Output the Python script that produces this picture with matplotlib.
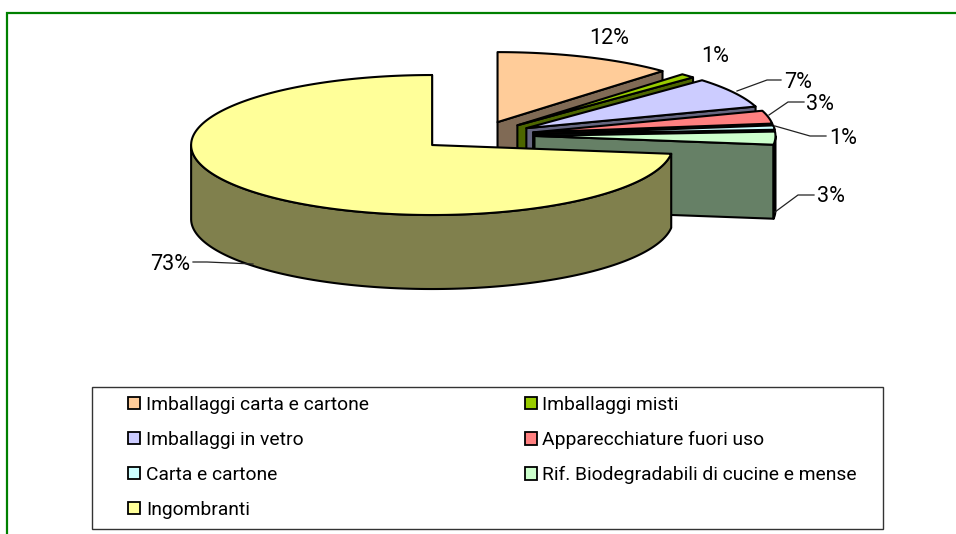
import numpy as np
import matplotlib
matplotlib.use("Agg")
import matplotlib.pyplot as plt
from matplotlib.patches import Patch, Polygon, Rectangle

# Dati
categorie = ["Imballaggi carta e cartone", "Imballaggi misti", "Imballaggi in vetro",
             "Apparecchiature fuori uso", "Carta e cartone",
             "Rif. Biodegradabili di cucine e mense", "Ingombranti"]
valori = [12, 1, 7, 3, 1, 3, 73]
colori = ["#FFCC99", "#99CC00", "#CCCCFF", "#FF8080", "#CCFFFF", "#CCFFCC", "#FFFF99"]
colori_lato = ["#806A55", "#4D6600", "#666680", "#804040", "#668080", "#668066", "#80804D"]

# Geometria della torta (in pixel)
cx, cy = 476, 135.5
rx, ry = 241, 70
depth = 74
expl_x, expl_y = 58.5, 14.4

# Etichette e linee guida
etichette_xy = [(609, 39), (715, 57), (798, 82), (820, 104), (843, 138), (831, 197), (170, 265)]
guide = {2: [(737, 91), (767, 80), (781, 80)],
         3: [(769, 115), (788, 102), (804, 102)],
         4: [(775, 126), (810, 136), (826, 136)],
         5: [(775, 212), (798, 195), (814, 195)],
         6: [(253, 264), (207, 262), (193, 262)]}

plt.rcParams['font.family'] = ['Roboto', 'DejaVu Sans']

fig = plt.figure(figsize=(9.56, 5.34), dpi=100)
ax = fig.add_axes([0, 0, 1, 1])
ax.set_xlim(0, 956)
ax.set_ylim(534, 0)
ax.axis("off")

# Cornice verde
ax.plot([7.5, 7.5, 956], [534, 13, 13], color="#008000", lw=1.6, solid_joinstyle="miter")


def arco(x0, y0, a1, a2):
    # angoli in gradi, orari a partire dalle ore 12
    t = np.radians(np.linspace(a1, a2, max(int(abs(a2 - a1) * 2), 2)))
    return np.column_stack([x0 + rx * np.sin(t), y0 - ry * np.cos(t)])


stile = dict(edgecolor="black", lw=1.5, joinstyle="round")
fine = np.cumsum(valori) / np.sum(valori) * 360
inizio = np.concatenate([[0], fine[:-1]])

for a1, a2, col, lato in zip(inizio, fine, colori, colori_lato):
    medio = np.radians((a1 + a2) / 2)
    x0 = cx + expl_x * np.sin(medio)
    y0 = cy - expl_y * np.cos(medio)
    bordo = arco(x0, y0, a1, a2)
    giu = np.array([0, depth])

    # parete radiale
    centro = np.array([x0, y0])
    ax.add_patch(Polygon([centro, bordo[-1], bordo[-1] + giu, centro + giu], facecolor=lato, **stile))

    # parete esterna, solo la parte davanti
    b1, b2 = max(a1, 90), min(a2, 270)
    if b2 > b1:
        fronte = arco(x0, y0, b1, b2)
        ax.add_patch(Polygon(np.vstack([fronte, (fronte + giu)[::-1]]), facecolor=lato, **stile))

    # faccia superiore
    ax.add_patch(Polygon(np.vstack([centro, bordo]), facecolor=col, **stile))

# Linee guida
for punti in guide.values():
    xs, ys = zip(*punti)
    ax.plot(xs, ys, color="#222222", lw=0.9)

for v, (x, y) in zip(valori, etichette_xy):
    ax.text(x, y, f"{v}%", ha="center", va="center", fontsize=15.5, color="black")

# Riquadro legenda
ax.add_patch(Rectangle((92.5, 386.5), 791, 142, facecolor="white", edgecolor="#333333", lw=1.0))

# Legenda, riempita per righe
ordine = [0, 2, 4, 6, 1, 3, 5]
maniglie = [Patch(facecolor=colori[i], edgecolor="black", lw=1.3, label=categorie[i]) for i in ordine]
leg = ax.legend(handles=maniglie, ncol=2, loc="upper left",
                bbox_to_anchor=(128, 396), bbox_transform=ax.transData,
                fontsize=13.9, frameon=False, handlelength=0.62, handleheight=0.62,
                handletextpad=0.3, labelspacing=0.88, columnspacing=8.07,
                borderpad=0, borderaxespad=0)

plt.savefig("out.png", dpi=100)
